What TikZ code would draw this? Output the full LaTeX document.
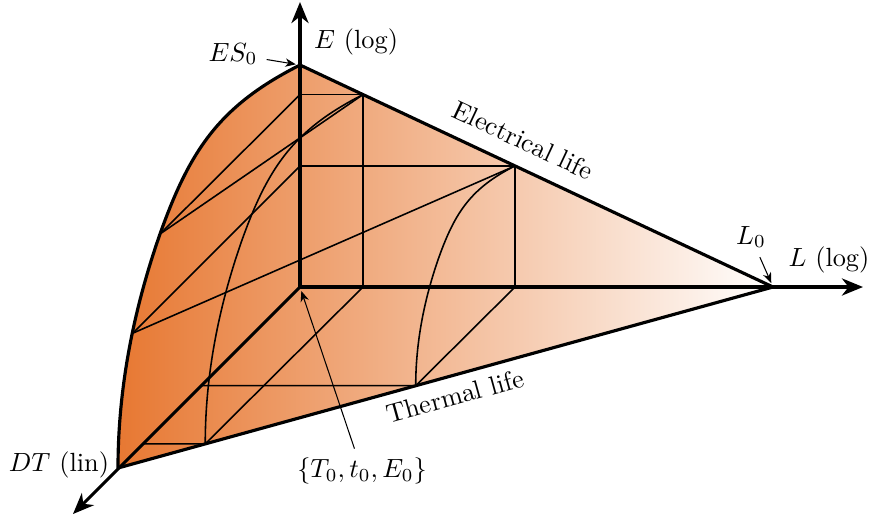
\documentclass[tikz,border=0pt]{standalone}
\usetikzlibrary{arrows.meta}
\definecolor{cOr}{RGB}{231,120,50}
\begin{document}
\begin{tikzpicture}[x=0.38pt,y=-0.38pt,
  axis/.style={line width=1.2pt,-{Stealth[length=8pt,width=6.5pt,inset=2.5pt]}},
  edge/.style={line width=1.2pt,line join=round},
  gridline/.style={line width=0.6pt},
  note/.style={line width=0.4pt,-{Stealth[length=4pt,width=3.2pt,inset=1.2pt]},shorten >=1.6pt},
  lbl/.style={inner sep=3.3pt}]
\useasboundingbox (-300,-287) rectangle (569,230);
% key points
\coordinate (O) at (0,0);
\coordinate (ES0) at (0,-222);
\coordinate (L0) at (473,0);
\coordinate (DT) at (-182,181);
\coordinate (Etip) at (0,-285);
\coordinate (Ltip) at (563,0);
\coordinate (DTtip) at (-227,227);
\coordinate (A) at (63,-192.4);
\coordinate (B) at (215,-121.1);
\coordinate (EA) at (0,-192.4);
\coordinate (EB) at (0,-121.1);
\coordinate (LA) at (63,0);
\coordinate (LB) at (215,0);
\coordinate (DA) at (-157.8,156.9);
\coordinate (DB) at (-99.3,98.7);
\coordinate (C) at (-94.8,156.9);
\coordinate (D) at (115.7,98.7);
\coordinate (P1) at (-140,-53);
\coordinate (P2) at (-167.4,46.3);
% shaded surface
\shade[left color=cOr,right color=white] (ES0) -- (L0) -- (DT)
  .. controls (-182,101) and (-166.4,22.5) .. (-140,-53)
  .. controls (-109.8,-137.8) and (-80.1,-181.5) .. (0,-222) -- cycle;
% grid lines
\draw[gridline] (EA) -- (A) -- (LA);
\draw[gridline] (EB) -- (B) -- (LB);
\draw[gridline] (P1) -- (EA);
\draw[gridline] (P1) -- (A);
\draw[gridline] (P2) -- (EB);
\draw[gridline] (P2) -- (B);
\draw[gridline] (DA) -- (C) -- (LA);
\draw[gridline] (DB) -- (D) -- (LB);
\begin{scope}[shift={(63,0)},scale=0.8668]
\draw[gridline] (0,-222) .. controls (-80.1,-181.5) and (-109.8,-137.8) .. (-140,-53)
  .. controls (-166.4,22.5) and (-182,101) .. (-182,181);
\end{scope}
\begin{scope}[shift={(215,0)},scale=0.5455]
\draw[gridline] (0,-222) .. controls (-80.1,-181.5) and (-109.8,-137.8) .. (-140,-53)
  .. controls (-166.4,22.5) and (-182,101) .. (-182,181);
\end{scope}
% outline
\draw[edge] (ES0) -- (L0) -- (DT)
  .. controls (-182,101) and (-166.4,22.5) .. (-140,-53)
  .. controls (-109.8,-137.8) and (-80.1,-181.5) .. (0,-222) -- cycle;
% axes
\draw[axis] (O) -- (Etip);
\draw[axis] (O) -- (Ltip);
\draw[axis] (O) -- (DTtip);
% labels
\node[lbl,anchor=west] (Elbl) at (5,-245) {$E$~(log)};
\node[lbl] (Llbl) at (529,-27) {$L$~(log)};
\node[lbl] (L0lbl) at (451,-50) {$L_0$};
\node[lbl] (ES0lbl) at (-67,-233) {$ES_0$};
\node[lbl] (DTlbl) at (-241,178) {$DT$~(lin)};
\node[lbl] (T0lbl) at (62,184) {$\{T_0,t_0,E_0\}$};
\node[lbl,rotate=-25.14] (ElecLbl) at (223,-147) {Electrical life};
\node[lbl,rotate=15.45] (ThLbl) at (155,109) {Thermal life};
\draw[note] (ES0lbl) -- (ES0);
\draw[note] (L0lbl) -- (L0);
\draw[note] (T0lbl) -- (O);
\end{tikzpicture}
\end{document}
